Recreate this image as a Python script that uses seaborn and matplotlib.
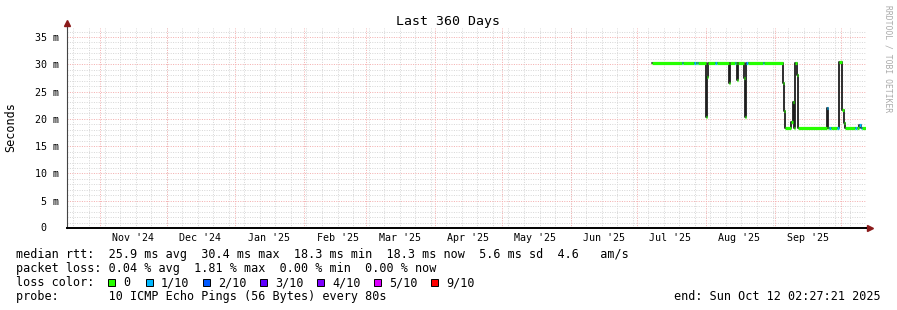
import numpy as np
import pandas as pd
import matplotlib
matplotlib.use("Agg")
import matplotlib.pyplot as plt
import matplotlib.dates as mdates
from matplotlib.patches import Rectangle
import seaborn as sns

# ---------------- data ----------------
start_time = "2024-10-17 02:27:21"
end_time = "2025-10-12 02:27:21"

change_times = [
    "2025-07-07 12:00", "2025-07-21 00:00", "2025-07-21 12:00", "2025-07-26 12:00",
    "2025-07-27 12:00", "2025-07-28 00:00", "2025-07-28 12:00", "2025-08-01 00:00",
    "2025-08-01 12:00", "2025-08-02 00:00", "2025-08-05 00:00", "2025-08-06 00:00",
    "2025-08-11 12:00", "2025-08-12 00:00", "2025-08-14 00:00", "2025-08-14 12:00",
    "2025-08-15 00:00", "2025-08-15 12:00", "2025-08-18 00:00", "2025-08-18 12:00",
    "2025-08-19 00:00", "2025-08-20 00:00", "2025-08-26 12:00", "2025-08-27 00:00",
    "2025-09-04 12:00", "2025-09-05 00:00", "2025-09-05 12:00", "2025-09-08 12:00",
    "2025-09-09 00:00", "2025-09-09 12:00", "2025-09-10 00:00", "2025-09-11 00:00",
    "2025-09-11 12:00", "2025-09-24 12:00", "2025-09-25 00:00", "2025-09-25 12:00",
    "2025-09-26 12:00", "2025-09-29 00:00", "2025-09-30 00:00", "2025-10-01 12:00",
    "2025-10-02 00:00", "2025-10-02 12:00", "2025-10-07 00:00", "2025-10-08 00:00",
    "2025-10-09 00:00", "2025-10-10 00:00", "2025-10-10 12:00",
]
median_ms = [
    30.2, 30.2, 30.2, 30.2,
    30.2, 30.2, 30.2, 20.4,
    27.7, 30.2, 30.2, 30.2,
    26.6, 30.2, 30.2, 30.2,
    27.1, 30.2, 27.4, 20.4,
    30.3, 30.3, 30.3, 30.3,
    26.5, 21.4, 18.3, 19.5,
    23.1, 18.3, 30.3, 28.0,
    18.3, 21.9, 18.3, 18.3,
    18.3, 18.3, 30.4, 21.6,
    19.3, 18.3, 18.3, 18.3,
    18.9, 18.3, 18.3,
]
loss_level = [
    0, 1, 0, 1,
    0, 1, 0, 0,
    0, 0, 1, 0,
    0, 0, 1, 0,
    0, 0, 0, 0,
    1, 0, 1, 0,
    0, 0, 0, 0,
    0, 0, 0, 0,
    0, 1, 0, 1,
    0, 1, 0, 0,
    0, 0, 1, 0,
    1, 1, 0,
]

loss_labels = ["0", "1/10", "2/10", "3/10", "4/10", "5/10", "9/10"]
loss_colors = ["#26ff00", "#00b8ff", "#0059ff", "#5e00ff", "#7e00ff", "#dd00ff", "#ff0000"]

month_labels = ["Nov '24", "Dec '24", "Jan '25", "Feb '25", "Mar '25", "Apr '25",
                "May '25", "Jun '25", "Jul '25", "Aug '25", "Sep '25"]
month_label_dates = ["2024-11-16", "2024-12-16", "2025-01-16", "2025-02-16", "2025-03-16",
                     "2025-04-16", "2025-05-16", "2025-06-16", "2025-07-16", "2025-08-16",
                     "2025-09-16"]
ytick_values = [0, 5, 10, 15, 20, 25, 30, 35]
y_max = 36.65

title = "Last 360 Days"
y_label = "Seconds"
stat_rtt = "median rtt:  25.9 ms avg  30.4 ms max  18.3 ms min  18.3 ms now  5.6 ms sd  4.6   am/s"
stat_loss = "packet loss: 0.04 % avg  1.81 % max  0.00 % min  0.00 % now"
probe_text = "probe:       10 ICMP Echo Pings (56 Bytes) every 80s"
end_text = "end: Sun Oct 12 02:27:21 2025"
watermark = "RRDTOOL / TOBI OETIKER"

# ---------------- figure ----------------
sns.set_theme(style="white")
plt.rcParams['font.family'] = ['DejaVu Sans Mono', 'DejaVu Sans']

W, H = 897, 310
fig = plt.figure(figsize=(W / 100, H / 100), dpi=100)
fig.patch.set_facecolor("white")
ax = fig.add_axes([67 / W, (H - 228) / H, 799 / W, 200 / H])
ax.set_facecolor("white")

t0 = pd.Timestamp(start_time)
t1 = pd.Timestamp(end_time)

# grid (light dotted lines like rrdtool)
grey = "#d8d8d8"
red = "#f4b0b0"
dot = (0, (1, 1.4))
gkw = dict(lw=0.72, ls=dot)
for d in pd.date_range("2024-10-20", t1, freq="W-SUN"):
    ax.axvline(d, color=grey, zorder=0, **gkw)
for v in range(1, 37):
    if v % 5:
        ax.axhline(v, color=grey, zorder=0, **gkw)
for d in pd.date_range("2024-11-01", t1, freq="MS"):
    ax.axvline(d, color=red, zorder=0.5, **gkw)
for v in range(5, 37, 5):
    ax.axhline(v, color=red, zorder=0.5, **gkw)

# data
times = pd.to_datetime(change_times + [end_time], format="mixed")
df = pd.DataFrame({"time": times, "ms": median_ms + [median_ms[-1]]})
sns.lineplot(data=df, x="time", y="ms", drawstyle="steps-post", color="#1e1e1e",
             lw=1.3, ax=ax, estimator=None, sort=False, zorder=3)
tn = mdates.date2num(times)
ax.hlines(median_ms, tn[:-1], tn[1:], colors=[loss_colors[l] for l in loss_level],
          lw=2.3, zorder=4)

ax.set_xlim(t0, t1)
ax.set_ylim(0, y_max)
ax.set_xlabel("")
ax.set_ylabel("")

# ticks
ax.set_xticks(pd.to_datetime(month_label_dates))
ax.set_xticklabels(month_labels, fontsize=7.2)
ax.set_yticks(ytick_values)
ax.set_yticklabels(["" if v == 0 else f"{v} m" for v in ytick_values], fontsize=7.2)
ax.tick_params(axis="x", length=0, pad=3.4, colors="black")
ax.tick_params(axis="y", length=2.2, width=0.7, pad=3.4, colors="black", direction="out")
ax.tick_params(axis="y", color="#e09a9a")
ax.annotate("0", xy=(0, 0), xycoords=("axes fraction", "data"),
            xytext=(-14.8, 0), textcoords="offset points", ha="right", va="center",
            fontsize=7.2, color="black")

for s in ["top", "right"]:
    ax.spines[s].set_visible(False)
ax.spines["left"].set_color("#444444")
ax.spines["left"].set_linewidth(0.8)
ax.spines["bottom"].set_color("black")
ax.spines["bottom"].set_linewidth(1.4)

# axis extensions and arrows
arrow_c = "#8b1a1a"
ax.plot([0, 0], [1, 1.02], transform=ax.transAxes, color="#444444", lw=0.8, clip_on=False)
ax.plot([1, 1.004], [0, 0], transform=ax.transAxes, color="black", lw=1.4, clip_on=False)
ax.plot([0], [1.023], marker="^", ms=4.2, color=arrow_c, transform=ax.transAxes,
        clip_on=False, mec=arrow_c)
ax.plot([1.0055], [0], marker=">", ms=4.2, color=arrow_c, transform=ax.transAxes,
        clip_on=False, mec=arrow_c)

# texts
def ftext(x, y, s, **kw):
    fig.text(x / W, 1 - y / H, s, **kw)

ftext(448, 24.5, title, ha="center", va="baseline", fontsize=9.5, color="black")
ftext(11, 127, y_label, ha="center", va="center", rotation=90, fontsize=8.5, color="black")
ftext(888, 5, watermark, ha="center", va="top", rotation=270, fontsize=5.8, color="#aaaaaa")

ftext(16, 258, stat_rtt, ha="left", va="baseline", fontsize=8.5, color="black")
ftext(16, 272, stat_loss, ha="left", va="baseline", fontsize=8.5, color="black")
ftext(16, 286, "loss color:", ha="left", va="baseline", fontsize=8.5, color="black")
ftext(16, 300, probe_text, ha="left", va="baseline", fontsize=8.5, color="black")
ftext(881, 300, end_text, ha="right", va="baseline", fontsize=8.5, color="black")

for i, (lab, col) in enumerate(zip(loss_labels, loss_colors)):
    bx = 108 if i == 0 else 146 + 57 * (i - 1)
    fig.add_artist(Rectangle((bx / W, 1 - 285.5 / H), 7 / W, 7 / H, facecolor=col,
                             edgecolor="black", lw=0.7, transform=fig.transFigure))
    ftext(bx + 15, 286, lab, ha="left", va="baseline", fontsize=8.5, color="black")

fig.savefig("out.png", dpi=100, facecolor="white")
